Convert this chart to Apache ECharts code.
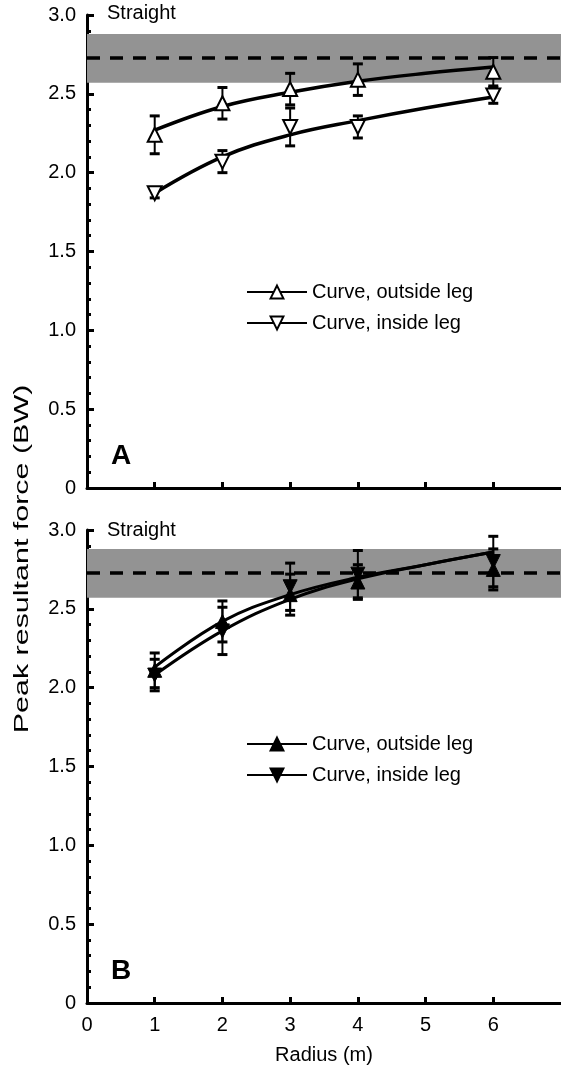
<!DOCTYPE html>
<html>
<head>
<meta charset="utf-8">
<script src="https://cdn.jsdelivr.net/npm/echarts@6/dist/echarts.min.js"></script>
<style>
  html, body { margin: 0; padding: 0; background: #fff; }
  #chart { width: 561px; height: 1069px; }
</style>
</head>
<body>
<div id="chart"></div>
<script>
// radius (m) of the measured points, and of the fitted curves
const radius = [1, 2, 3, 4, 6]
const fitRadius = [1, 2, 3, 4, 5, 6]

// panel A (open symbols)
const aOutside = [2.24, 2.44, 2.53, 2.59, 2.64]
const aOutsideSD = [0.12, 0.10, 0.10, 0.10, 0.09]
const aInside = [1.87, 2.07, 2.29, 2.29, 2.49]
const aInsideSD = [0.03, 0.07, 0.12, 0.07, 0.05]
const aOutsideFit = [2.27, 2.42, 2.51, 2.58, 2.63, 2.67]
const aInsideFit = [1.87, 2.10, 2.24, 2.33, 2.41, 2.48]

// panel B (filled symbols)
const bOutside = [2.11, 2.42, 2.59, 2.67, 2.75]
const bOutsideSD = [0.11, 0.13, 0.13, 0.11, 0.13]
const bInside = [2.08, 2.36, 2.64, 2.72, 2.80]
const bInsideSD = [0.10, 0.15, 0.15, 0.15, 0.16]
const bOutsideFit = [2.13, 2.42, 2.59, 2.70, 2.78, 2.86]
const bInsideFit = [2.08, 2.36, 2.56, 2.69, 2.78, 2.86]

// straight running reference: mean and band
const straightMean = 2.73
const straightLow = 2.57
const straightHigh = 2.88

const xTicks = [1, 2, 3, 4, 5, 6]
const xLabels = [0, 1, 2, 3, 4, 5, 6]

const FONT = 'Liberation Sans, Arial, Helvetica, sans-serif'

const chart = echarts.init(document.getElementById('chart'))

const pairs = (xs, ys) => xs.map((x, i) => [x, ys[i]])
const errData = (xs, ys, sd) => xs.map((x, i) => [x, ys[i] - sd[i], ys[i] + sd[i]])

const renderErrorBar = (params, api) => {
  const x = api.value(0)
  const top = api.coord([x, api.value(2)])
  const bot = api.coord([x, api.value(1)])
  const w = 5
  const cap = { stroke: '#000', lineWidth: 3 }
  return {
    type: 'group',
    children: [
      { type: 'line', shape: { x1: top[0], y1: top[1], x2: bot[0], y2: bot[1] }, style: { stroke: '#000', lineWidth: 2 } },
      { type: 'line', shape: { x1: top[0] - w, y1: top[1], x2: top[0] + w, y2: top[1] }, style: cap },
      { type: 'line', shape: { x1: bot[0] - w, y1: bot[1], x2: bot[0] + w, y2: bot[1] }, style: cap },
    ],
  }
}

const makeXAxis = (gridIndex, showLabels) => ({
  type: 'value',
  gridIndex,
  min: 0,
  max: 7,
  interval: 1,
  axisLine: { show: true, onZero: false, lineStyle: { color: '#000', width: 3 } },
  axisTick: { show: true, inside: true, length: 6, customValues: xTicks, lineStyle: { color: '#000', width: 3 } },
  axisLabel: { show: showLabels, customValues: xLabels, color: '#000', fontSize: 20, fontFamily: FONT, margin: 12 },
  splitLine: { show: false },
  name: showLabels ? 'Radius (m)' : '',
  nameLocation: 'middle',
  nameGap: 42,
  nameTextStyle: { color: '#000', fontSize: 20, fontFamily: FONT },
})

const makeYAxis = (gridIndex) => ({
  type: 'value',
  gridIndex,
  min: 0,
  max: 3,
  interval: 0.5,
  axisLine: { show: true, lineStyle: { color: '#000', width: 3 } },
  axisTick: { show: true, inside: true, length: 7, lineStyle: { color: '#000', width: 3 } },
  minorTick: { show: true, splitNumber: 5, length: 4, lineStyle: { color: '#000', width: 3 } },
  axisLabel: {
    color: '#000', fontSize: 20, fontFamily: FONT, margin: 11,
    formatter: (v) => (v === 0 ? '0' : v.toFixed(1)),
  },
  splitLine: { show: false },
})

const bandSeries = (idx) => ({
  type: 'line',
  xAxisIndex: idx,
  yAxisIndex: idx,
  data: [],
  z: 1,
  silent: true,
  markArea: {
    silent: true,
    itemStyle: { color: '#939393', opacity: 1 },
    data: [[{ xAxis: 0, yAxis: straightLow }, { xAxis: 7, yAxis: straightHigh }]],
  },
  markLine: {
    silent: true,
    symbol: 'none',
    label: { show: false },
    lineStyle: { color: '#000', width: 3.5, type: [13, 10] },
    data: [{ yAxis: straightMean }],
  },
})

const fitSeries = (idx, name, data, filled, rotate) => ({
  name,
  type: 'line',
  xAxisIndex: idx,
  yAxisIndex: idx,
  data: pairs(fitRadius, data),
  smooth: 0.4,
  symbol: 'triangle',
  symbolRotate: rotate,
  showSymbol: false,
  lineStyle: { color: '#000', width: filled ? 3 : 3.5 },
  itemStyle: filled
    ? { color: '#000', borderColor: '#000', borderWidth: 1 }
    : { color: '#fff', borderColor: '#000', borderWidth: 2 },
  z: 3,
})

const errSeries = (idx, ys, sd) => ({
  type: 'custom',
  xAxisIndex: idx,
  yAxisIndex: idx,
  renderItem: renderErrorBar,
  encode: { x: 0, y: [1, 2] },
  data: errData(radius, ys, sd),
  z: 4,
  silent: true,
})

const pointSeries = (idx, ys, filled, rotate) => ({
  type: 'scatter',
  xAxisIndex: idx,
  yAxisIndex: idx,
  data: pairs(radius, ys),
  symbol: 'triangle',
  symbolSize: 14,
  symbolRotate: rotate,
  itemStyle: filled
    ? { color: '#000', borderColor: '#000', borderWidth: 1, opacity: 1 }
    : { color: '#fff', borderColor: '#000', borderWidth: 2, opacity: 1 },
  z: 5,
})

const legendStyle = (top, names) => ({
  data: names,
  orient: 'vertical',
  left: 241,
  top,
  itemWidth: 60,
  itemHeight: 16,
  itemGap: 11,
  formatter: (n) => n.replace(/^[AB]: /, ''),
  textStyle: { color: '#000', fontSize: 20, fontFamily: FONT },
  selectedMode: false,
})

const option = {
  animation: false,
  textStyle: { fontFamily: FONT },
  grid: [
    { left: 87, right: 0, top: 15, height: 473 },
    { left: 87, right: 0, top: 530, height: 473 },
  ],
  xAxis: [makeXAxis(0, false), makeXAxis(1, true)],
  yAxis: [makeYAxis(0), makeYAxis(1)],
  legend: [
    legendStyle(277, ['A: Curve, outside leg', 'A: Curve, inside leg']),
    legendStyle(729, ['B: Curve, outside leg', 'B: Curve, inside leg']),
  ],
  graphic: [
    {
      type: 'text', x: 22, y: 559, rotation: Math.PI / 2, scaleX: 1.45,
      style: {
        text: 'Peak resultant force (BW)', fill: '#000', fontSize: 21, fontFamily: FONT,
        align: 'center', verticalAlign: 'middle',
      },
    },
    { type: 'text', left: 107, top: 3, style: { text: 'Straight', fill: '#000', fontSize: 20, fontFamily: FONT } },
    { type: 'text', left: 107, top: 520, style: { text: 'Straight', fill: '#000', fontSize: 20, fontFamily: FONT } },
    { type: 'text', left: 111, top: 442, style: { text: 'A', fill: '#000', fontSize: 28, fontWeight: 'bold', fontFamily: FONT } },
    { type: 'text', left: 111, top: 957, style: { text: 'B', fill: '#000', fontSize: 28, fontWeight: 'bold', fontFamily: FONT } },
  ],
  series: [
    bandSeries(0),
    fitSeries(0, 'A: Curve, outside leg', aOutsideFit, false, 0),
    fitSeries(0, 'A: Curve, inside leg', aInsideFit, false, 180),
    errSeries(0, aOutside, aOutsideSD),
    errSeries(0, aInside, aInsideSD),
    pointSeries(0, aOutside, false, 0),
    pointSeries(0, aInside, false, 180),

    bandSeries(1),
    fitSeries(1, 'B: Curve, outside leg', bOutsideFit, true, 0),
    fitSeries(1, 'B: Curve, inside leg', bInsideFit, true, 180),
    errSeries(1, bOutside, bOutsideSD),
    errSeries(1, bInside, bInsideSD),
    pointSeries(1, bOutside, true, 0),
    pointSeries(1, bInside, true, 180),
  ],
}

chart.setOption(option)
</script>
</body>
</html>
